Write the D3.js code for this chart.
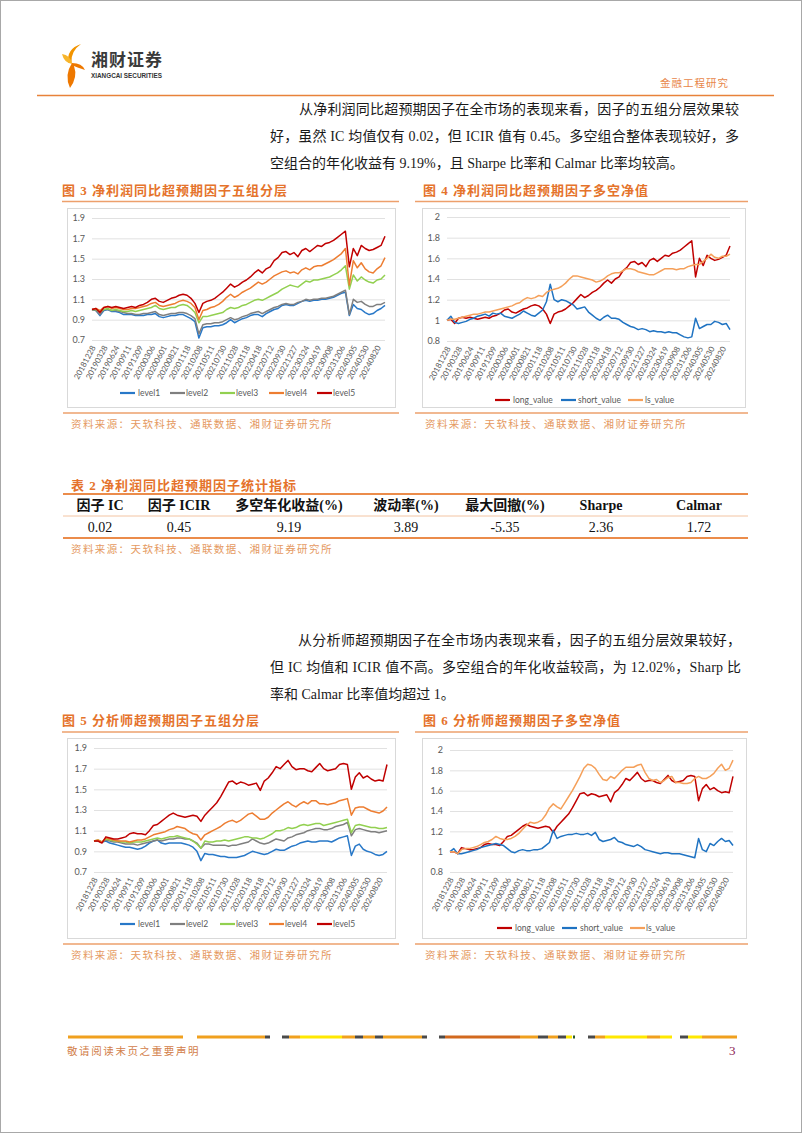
<!DOCTYPE html>
<html><head><meta charset="utf-8">
<script src="https://cdn.jsdelivr.net/npm/d3@7"></script>
<style>body{margin:0;background:#fff}svg{display:block}</style>
</head><body>
<svg id="page" width="802" height="1133"></svg>
<script>
// ---------------- DATA ----------------
const dateLabels = ["20181228","20190328","20190624","20190911","20191209","20200306","20200601","20200821","20201118","20210208","20210511","20210730","20211028","20220118","20220418","20220712","20220930","20221227","20230324","20230619","20230908","20231206","20240305","20240530","20240820"];
const layerTicks = [0.7,0.9,1.1,1.3,1.5,1.7,1.9];
const lsTicks = [0.8,1.0,1.2,1.4,1.6,1.8,2.0];
const layerNames = ["level1","level2","level3","level4","level5"];
const lsNames = ["long_value","short_value","ls_value"];

const fig3Level1 = [1.00,0.99,0.94, 0.99,1.00,0.98, 0.98,0.97,0.95, 0.95,0.95,0.94, 0.94,0.94,0.95, 0.95,0.96,0.93, 0.92,0.93,0.94, 0.94,0.95,0.95, 0.93,0.91,0.88, 0.72,0.82,0.83, 0.83,0.84,0.84, 0.85,0.87,0.90, 0.87,0.89,0.91, 0.92,0.94,0.95, 0.95,0.93,0.96, 0.98,1.00,1.01, 1.04,1.05,1.04, 1.04,1.06,1.08, 1.09,1.08,1.09, 1.09,1.10,1.10, 1.11,1.12,1.14, 1.16,1.17,0.94, 1.05,1.01,1.00, 0.97,0.95,0.96, 0.99,1.01,1.04];
const fig3Level2 = [1.00,0.99,0.95, 1.00,1.00,0.99, 0.99,0.98,0.97, 0.96,0.96,0.95, 0.95,0.96,0.96, 0.97,0.98,0.95, 0.94,0.95,0.96, 0.96,0.97,0.97, 0.96,0.94,0.91, 0.76,0.85,0.86, 0.86,0.87,0.87, 0.88,0.90,0.92, 0.90,0.91,0.93, 0.94,0.96,0.97, 0.98,0.96,0.98, 1.00,1.02,1.03, 1.05,1.06,1.05, 1.05,1.07,1.08, 1.10,1.09,1.10, 1.10,1.11,1.11, 1.12,1.13,1.15, 1.17,1.19,0.95, 1.10,1.07,1.08, 1.05,1.03,1.03, 1.05,1.05,1.07];
const fig3Level3 = [1.00,1.00,0.98, 1.00,1.01,0.99, 1.00,0.99,0.98, 0.98,0.99,0.98, 0.99,1.00,1.01, 1.02,1.04,1.01, 1.00,1.01,1.02, 1.02,1.04,1.05, 1.04,1.01,0.97, 0.87,0.93,0.93, 0.94,0.95,0.96, 0.97,1.00,1.02, 1.01,1.02,1.04, 1.05,1.07,1.09, 1.10,1.09,1.11, 1.13,1.15,1.17, 1.20,1.22,1.24, 1.23,1.22,1.25, 1.28,1.27,1.29, 1.29,1.30,1.31, 1.32,1.34,1.36, 1.39,1.43,1.20, 1.34,1.28,1.32, 1.29,1.27,1.26, 1.29,1.30,1.34];
const fig3Level4 = [1.00,1.01,0.99, 1.02,1.03,1.01, 1.02,1.01,1.00, 1.00,1.01,1.01, 1.02,1.03,1.04, 1.06,1.07,1.04, 1.03,1.04,1.05, 1.06,1.08,1.09, 1.08,1.06,1.02, 0.90,0.99,1.00, 1.02,1.03,1.05, 1.08,1.12,1.15, 1.12,1.14,1.17, 1.19,1.21,1.24, 1.27,1.25,1.27, 1.30,1.33,1.35, 1.37,1.38,1.36, 1.37,1.35,1.39, 1.41,1.39,1.42, 1.43,1.43,1.45, 1.47,1.49,1.52, 1.55,1.60,1.24, 1.48,1.41,1.46, 1.40,1.37,1.36, 1.40,1.43,1.51];
const fig3Level5 = [1.00,1.01,0.97, 1.02,1.03,1.02, 1.03,1.02,1.01, 1.02,1.03,1.02, 1.04,1.05,1.07, 1.10,1.11,1.08, 1.07,1.09,1.11, 1.12,1.14,1.15, 1.14,1.11,1.06, 0.97,1.06,1.08, 1.09,1.11,1.14, 1.17,1.21,1.25, 1.22,1.24,1.27, 1.29,1.32,1.36, 1.39,1.36,1.40, 1.42,1.48,1.51, 1.56,1.57,1.54, 1.56,1.52,1.58, 1.60,1.57,1.60, 1.63,1.62,1.65, 1.66,1.68,1.71, 1.74,1.77,1.42, 1.60,1.53,1.63, 1.60,1.58,1.59, 1.61,1.63,1.72];

const fig4Long = fig3Level5;
const fig4Short = [1.00,1.04,0.98, 0.97,0.98,0.99, 1.01,1.02,1.04, 1.05,1.06,1.04, 1.07,1.06,1.07, 1.04,1.03,1.02, 1.04,1.06,1.09, 1.07,1.05,1.04, 1.07,1.10,1.18, 1.35,1.20,1.18, 1.20,1.19,1.17, 1.15,1.11,1.12, 1.13,1.08,1.05, 1.02,1.00,1.03, 1.05,1.02,1.02, 1.01,0.98,0.96, 0.94,0.93,0.91, 0.92,0.91,0.89, 0.90,0.89,0.89, 0.88,0.89,0.88, 0.88,0.86,0.84, 0.83,0.84,1.02, 0.92,0.94,0.96, 0.96,0.99,0.98, 0.96,0.97,0.91];
const fig4Ls = [1.00,1.01,1.01, 1.02,1.03,1.04, 1.05,1.06,1.06, 1.07,1.08,1.08, 1.09,1.10,1.11, 1.12,1.13,1.14, 1.16,1.17,1.20, 1.22,1.21,1.22, 1.24,1.23,1.27, 1.29,1.30,1.31, 1.33,1.36,1.40, 1.43,1.43,1.42, 1.41,1.40,1.39, 1.37,1.38,1.40, 1.43,1.45,1.46, 1.46,1.48,1.50, 1.50,1.49,1.47, 1.46,1.45,1.44, 1.44,1.46,1.48, 1.50,1.50,1.50, 1.49,1.50,1.50, 1.52,1.53,1.54, 1.54,1.57,1.60, 1.64,1.61,1.60, 1.62,1.62,1.64];

const fig5Level1 = [1.00,1.00,0.99, 1.00,0.98,0.97, 0.96,0.95,0.94, 0.94,0.93,0.92, 0.93,0.95,0.98, 1.00,1.01,0.98, 0.97,0.98,0.98, 0.98,0.98,0.97, 0.96,0.94,0.90, 0.81,0.88,0.87, 0.87,0.86,0.85, 0.85,0.84,0.84, 0.84,0.85,0.86, 0.88,0.90,0.89, 0.88,0.87,0.88, 0.90,0.92,0.91, 0.91,0.93,0.95, 0.96,0.98,0.99, 1.00,0.99,0.99, 1.00,1.00,1.00, 0.99,1.01,1.03, 1.04,1.05,0.86, 0.95,0.97,0.92, 0.90,0.89,0.87, 0.86,0.87,0.90];
const fig5Level2 = [1.00,1.00,0.99, 1.01,1.00,0.99, 0.99,0.98,0.97, 0.97,0.97,0.96, 0.97,0.98,0.99, 1.00,1.01,1.00, 1.01,1.02,1.02, 1.03,1.03,1.02, 1.02,1.00,0.98, 0.93,0.97,0.97, 0.96,0.96,0.96, 0.96,0.95,0.96, 0.96,0.97,0.98, 0.99,1.02,1.00, 0.98,0.97,0.98, 1.00,1.02,1.01, 1.00,1.03,1.04, 1.06,1.07,1.08, 1.10,1.11,1.12, 1.12,1.11,1.11, 1.12,1.14,1.15, 1.16,1.18,1.05, 1.11,1.12,1.11, 1.10,1.09,1.09, 1.08,1.09,1.10];
const fig5Level3 = [1.00,1.01,0.99, 1.02,1.01,1.00, 1.00,0.99,0.99, 0.98,0.99,0.99, 0.99,1.00,1.01, 1.02,1.03,1.02, 1.03,1.04,1.04, 1.05,1.04,1.03, 1.02,1.00,0.97, 0.93,1.00,0.99, 0.99,1.00,1.00, 1.01,1.00,1.01, 1.02,1.03,1.04, 1.04,1.03,1.03, 1.02,1.03,1.05, 1.07,1.10,1.10, 1.11,1.13,1.12, 1.13,1.15,1.16, 1.15,1.16,1.17, 1.17,1.15,1.16, 1.17,1.18,1.19, 1.20,1.21,1.08, 1.15,1.16,1.15, 1.14,1.13,1.13, 1.12,1.12,1.13];
const fig5Level4 = [1.00,1.01,0.99, 1.03,1.02,1.01, 1.00,1.00,1.00, 0.99,1.00,1.01, 1.01,1.02,1.04, 1.06,1.07,1.08, 1.09,1.11,1.12, 1.14,1.13,1.12, 1.09,1.07,1.06, 1.01,1.06,1.08, 1.10,1.12,1.14, 1.17,1.19,1.20, 1.18,1.20,1.23, 1.26,1.27,1.24, 1.21,1.21,1.23, 1.27,1.30,1.33, 1.36,1.38,1.35, 1.33,1.36,1.38, 1.36,1.39,1.39, 1.36,1.36,1.35, 1.36,1.37,1.39, 1.40,1.41,1.25, 1.32,1.33,1.33, 1.31,1.29,1.28, 1.27,1.29,1.33];
const fig5Level5 = [1.00,1.00,0.98, 1.04,1.03,1.02, 1.02,1.03,1.04, 1.07,1.08,1.07, 1.07,1.06,1.10, 1.15,1.16,1.19, 1.22,1.25,1.27, 1.25,1.24,1.23, 1.24,1.25,1.24, 1.19,1.25,1.29, 1.33,1.37,1.43, 1.50,1.57,1.58, 1.55,1.57,1.56, 1.54,1.55,1.56, 1.49,1.58,1.61, 1.66,1.72,1.70, 1.74,1.78,1.72, 1.69,1.70,1.70, 1.68,1.67,1.71, 1.75,1.70,1.68, 1.69,1.70,1.74, 1.75,1.74,1.50, 1.62,1.66,1.61, 1.63,1.60,1.58, 1.59,1.58,1.74];

const fig6Long = fig5Level5;
const fig6Short = [1.00,1.03,0.98, 0.98,0.99,1.00, 1.01,1.02,1.04, 1.05,1.06,1.07, 1.08,1.07,1.06, 1.03,1.00,0.99, 1.01,1.02,1.01, 1.01,1.02,1.02, 1.03,1.06,1.09, 1.21,1.13,1.15, 1.16,1.17,1.17, 1.18,1.17,1.17, 1.18,1.16,1.19, 1.12,1.10,1.11, 1.12,1.14,1.10, 1.09,1.07,1.06, 1.05,1.07,1.05, 1.02,1.01,1.00, 0.99,0.98,0.99, 0.99,0.98,0.98, 0.98,0.97,0.96, 0.95,0.94,1.13, 1.02,1.00,1.08, 1.06,1.10,1.13, 1.10,1.11,1.06];
const fig6Ls = [1.00,1.00,0.98, 1.02,1.03,1.03, 1.04,1.05,1.07, 1.09,1.10,1.12, 1.15,1.13,1.12, 1.12,1.13,1.15, 1.18,1.22,1.26, 1.29,1.28,1.29, 1.31,1.36,1.43, 1.47,1.44,1.42, 1.48,1.54,1.60, 1.67,1.74,1.82, 1.86,1.85,1.82, 1.76,1.71,1.70, 1.74,1.72,1.76, 1.80,1.83,1.83, 1.83,1.85,1.86, 1.78,1.72,1.70, 1.71,1.68,1.70, 1.73,1.74,1.68, 1.68,1.67,1.67, 1.68,1.72,1.74, 1.72,1.72,1.74, 1.77,1.82,1.86, 1.80,1.82,1.90];

const tableHeaders = ["因子 IC","因子 ICIR","多空年化收益(%)","波动率(%)","最大回撤(%)","Sharpe","Calmar"];
const tableValues = ["0.02","0.45","9.19","3.89","-5.35","2.36","1.72"];

// ---------------- DRAW ----------------
const svg = d3.select("#page");
const SERIF = "'Liberation Serif','Noto Sans CJK SC',serif";
const CJK = "'Noto Sans CJK SC',sans-serif";
const CHART = "Lato,'Open Sans',sans-serif";
const ORANGE_T = "#e5732b", ORANGE_L = "#eda06c", SRC = "#e59a62";

svg.append("rect").attr("x",0.5).attr("y",0.5).attr("width",801).attr("height",1132)
  .attr("fill","#fff").attr("stroke","#a8a8a8");

// header logo
const logo = svg.append("g");
logo.append("path").attr("d","M81,44 Q66,49 68.5,63 L71.5,62 Q71,51 81,44Z").attr("fill","#f29400");
logo.append("path").attr("d","M62,54 Q70,55 72.5,64 Q64,63 62,54Z").attr("fill","#f7b52c");
logo.append("path").attr("d","M72,63 Q82,63 85,70 Q77,67.5 74,66 Q78,77 70,88 Q64,75 72,63Z").attr("fill","#ee7800");
svg.append("text").attr("x",91).attr("y",66).text("湘财证券")
  .attr("font-family",CJK).attr("font-size",17).attr("font-weight",700).attr("fill","#3a3a3a").attr("letter-spacing",1);
svg.append("text").attr("x",91).attr("y",78).text("XIANGCAI SECURITIES")
  .attr("font-family","'Liberation Sans',sans-serif").attr("font-size",7.5).attr("font-weight",700).attr("fill","#333")
  .attr("textLength",71).attr("lengthAdjust","spacingAndGlyphs");
svg.append("text").attr("x",660).attr("y",87).text("金融工程研究")
  .attr("font-family",CJK).attr("font-size",10.5).attr("fill","#e8874a").attr("letter-spacing",1);
svg.append("line").attr("x1",37).attr("x2",774).attr("y1",95.5).attr("y2",95.5).attr("stroke","#e8823a").attr("stroke-width",1.5);

// paragraphs
function para(lines, y0){
  lines.forEach((l,i)=>{
    const t = svg.append("text").attr("x",l.x).attr("y",y0+i*27).text(l.s)
      .attr("font-family",SERIF).attr("font-size",14).attr("fill","#1a1a1a");
    if(l.w) t.attr("textLength",l.w).attr("lengthAdjust","spacing");
  });
}
para([
  {x:299,w:440,s:"从净利润同比超预期因子在全市场的表现来看，因子的五组分层效果较"},
  {x:270,w:469,s:"好，虽然 IC 均值仅有 0.02，但 ICIR 值有 0.45。多空组合整体表现较好，多"},
  {x:270,s:"空组合的年化收益有 9.19%，且 Sharpe 比率和 Calmar 比率均较高。"}
],114);
para([
  {x:298,w:443,s:"从分析师超预期因子在全市场内表现来看，因子的五组分层效果较好，"},
  {x:270,w:471,s:"但 IC 均值和 ICIR 值不高。多空组合的年化收益较高，为 12.02%，Sharp 比"},
  {x:270,s:"率和 Calmar 比率值均超过 1。"}
],645);

function title(x,y,s){
  svg.append("text").attr("x",x).attr("y",y).text(s).attr("font-family",SERIF)
    .attr("font-size",13).attr("font-weight",700).attr("fill",ORANGE_T).attr("letter-spacing",1);
}
function hline(x1,x2,y,c,w){
  svg.append("line").attr("x1",x1).attr("x2",x2).attr("y1",y).attr("y2",y).attr("stroke",c).attr("stroke-width",w);
}
function source(x,y){
  svg.append("text").attr("x",x).attr("y",y).text("资料来源：天软科技、通联数据、湘财证券研究所")
    .attr("font-family",CJK).attr("font-size",10.5).attr("fill",SRC).attr("letter-spacing",1.4);
}

title(62,195,"图 3  净利润同比超预期因子五组分层");
title(423,195,"图 4  净利润同比超预期因子多空净值");
hline(62,399,201.5,ORANGE_L,1.5); hline(415,748,201.5,ORANGE_L,1.5);
title(62,725,"图 5  分析师超预期因子五组分层");
title(423,725,"图 6  分析师超预期因子多空净值");
hline(62,399,732,ORANGE_L,1.5); hline(415,748,732,ORANGE_L,1.5);

hline(63,399,413,ORANGE_L,1.5); hline(415,748,413,ORANGE_L,1.5);
source(71,428); source(425,428);
hline(63,399,944,ORANGE_L,1.5); hline(415,748,944,ORANGE_L,1.5);
source(71,959); source(425,959);

// table
title(71,490,"表 2  净利润同比超预期因子统计指标");
hline(63,748,494,"#eb8c4b",2);
hline(63,748,516,"#f0b58a",0.8);
hline(63,748,538,"#eb8c4b",2);
const colX = [100,179,289,406,505,601,699];
tableHeaders.forEach((h,i)=>{
  svg.append("text").attr("x",colX[i]).attr("y",510).attr("text-anchor","middle").text(h)
    .attr("font-family",SERIF).attr("font-size",14).attr("font-weight",700).attr("fill","#111");
});
tableValues.forEach((v,i)=>{
  svg.append("text").attr("x",colX[i]).attr("y",532).attr("text-anchor","middle").text(v)
    .attr("font-family",SERIF).attr("font-size",14).attr("fill","#111");
});
source(71,553);

// charts
const fmt = d => String(+(+d).toFixed(1));
const fmt1 = d3.format(".1f");
function drawChart(o){
  const g = svg.append("g");
  g.append("rect").attr("x",o.box[0]+0.5).attr("y",o.box[1]+0.5).attr("width",o.box[2]).attr("height",o.box[3])
    .attr("fill","#fff").attr("stroke","#d9d9d9");
  const n = o.series[0].data.length;
  const x = d3.scaleLinear().domain([0,n-1]).range([o.x0,o.x1]);
  const y = d3.scaleLinear().domain(o.yDomain).range([o.yB,o.yT]);
  const ya = d3.axisLeft(y).tickValues(o.yTicks).tickSize(-(o.x1-o.x0)).tickPadding(7).tickFormat(o.fmt);
  const yg = g.append("g").attr("transform",`translate(${o.x0},0)`).call(ya);
  yg.select(".domain").remove();
  yg.selectAll("line").attr("stroke","#d9d9d9").attr("stroke-width",0.8);
  yg.selectAll("text").attr("fill","#595959").attr("font-family",CHART).attr("font-size",9);
  const xa = d3.axisBottom(x).tickValues(dateLabels.map((d,i)=>i*3)).tickSize(0).tickFormat(i=>dateLabels[Math.round(i/3)]);
  const xg = g.append("g").attr("transform",`translate(0,${o.yB})`).call(xa);
  xg.select(".domain").remove();
  xg.selectAll("text").attr("x",0).attr("y",0).attr("dy","0.35em").attr("text-anchor","end")
    .attr("transform","translate(1,6) rotate(-62)")
    .attr("fill","#595959").attr("font-family",CHART).attr("font-size",8);
  const line = d3.line().x((d,i)=>x(i)).y(d=>y(d));
  o.series.forEach(s=>{
    g.append("path").datum(s.data).attr("d",line).attr("fill","none")
      .attr("stroke",s.color).attr("stroke-width",1.5).attr("stroke-linejoin","round");
  });
  o.series.forEach((s,i)=>{
    const L = o.legend[i];
    g.append("line").attr("x1",L[0]).attr("x2",L[0]+15).attr("y1",o.legendY).attr("y2",o.legendY)
      .attr("stroke",s.color).attr("stroke-width",2.2);
    g.append("text").attr("x",L[1]).attr("y",o.legendY+3).text(s.name)
      .attr("fill","#595959").attr("font-family",CHART).attr("font-size",8.5);
  });
}
const C_L1="#2878c8", C_L2="#7f7f7f", C_L3="#92d050", C_L4="#ed7d31", C_L5="#c00000";
const C_LONG="#c00000", C_SHORT="#1f73c2", C_LS="#f5a05a";

drawChart({box:[67,208,328,199],x0:92,x1:385,yT:218,yB:340,yDomain:[0.7,1.9],yTicks:layerTicks,fmt:fmt1,
  series:[{data:fig3Level1,color:C_L1,name:layerNames[0]},{data:fig3Level2,color:C_L2,name:layerNames[1]},
    {data:fig3Level3,color:C_L3,name:layerNames[2]},{data:fig3Level4,color:C_L4,name:layerNames[3]},
    {data:fig3Level5,color:C_L5,name:layerNames[4]}],
  legend:[[120,138],[170,186],[220,236],[269,285],[317,333]],legendY:393});
drawChart({box:[422,208,323,199],x0:447,x1:730,yT:217,yB:341,yDomain:[0.8,2.0],yTicks:lsTicks,fmt:fmt,
  series:[{data:fig4Long,color:C_LONG,name:lsNames[0]},{data:fig4Short,color:C_SHORT,name:lsNames[1]},
    {data:fig4Ls,color:C_LS,name:lsNames[2]}],
  legend:[[495,513],[561,578],[628,645]],legendY:400});
drawChart({box:[67,738,328,200],x0:94,x1:387,yT:748,yB:872,yDomain:[0.7,1.9],yTicks:layerTicks,fmt:fmt1,
  series:[{data:fig5Level1,color:C_L1,name:layerNames[0]},{data:fig5Level2,color:C_L2,name:layerNames[1]},
    {data:fig5Level3,color:C_L3,name:layerNames[2]},{data:fig5Level4,color:C_L4,name:layerNames[3]},
    {data:fig5Level5,color:C_L5,name:layerNames[4]}],
  legend:[[120,138],[170,186],[220,236],[269,285],[317,333]],legendY:924});
drawChart({box:[422,738,324,200],x0:450,x1:733,yT:750,yB:872,yDomain:[0.8,2.0],yTicks:lsTicks,fmt:fmt,
  series:[{data:fig6Long,color:C_LONG,name:lsNames[0]},{data:fig6Short,color:C_SHORT,name:lsNames[1]},
    {data:fig6Ls,color:C_LS,name:lsNames[2]}],
  legend:[[497,515],[562,580],[630,646]],legendY:928});

// footer
(function(){
  const O="#f0a01e", D="#4a4a4a", Y="#ffe800", R="#d2691e", G="#2a5a2a";
  const segs=[[68,183,O],[197,265,O],[265,270,D],[282,289,D],[289,300,O],[300,342,Y],[342,355,O],[355,363,D],[363,375,O],[375,383,D],[383,422,O],[422,427,D],[439,445,D],[445,520,R],[520,538,O],[538,548,D],[548,558,O],[558,566,D],[566,572,Y],[573,575,G],[588,595,D],[595,605,O],[605,647,Y],[647,660,O],[660,672,Y],[680,688,D],[688,702,Y],[702,737,O]];
  const f = svg.append("g");
  segs.forEach(s=>f.append("rect").attr("x",s[0]).attr("y",1035.5).attr("width",s[1]-s[0]).attr("height",3).attr("fill",s[2]));
  svg.append("text").attr("x",67).attr("y",1055).text("敬请阅读末页之重要声明")
    .attr("font-family",CJK).attr("font-size",10.5).attr("fill","#d2804a").attr("letter-spacing",1.6);
  svg.append("text").attr("x",729).attr("y",1055).text("3")
    .attr("font-family",SERIF).attr("font-size",13).attr("fill","#8b2252");
})();
</script>
</body></html>
